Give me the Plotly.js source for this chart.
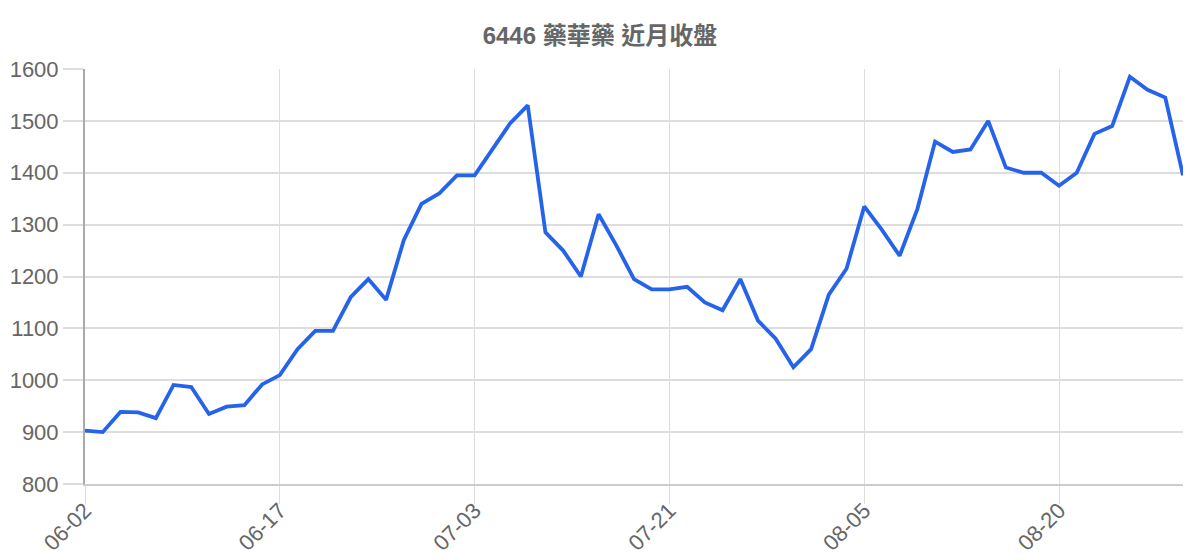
<!DOCTYPE html>
<html>
<head>
<meta charset="utf-8">
<script src="https://cdn.plot.ly/plotly-3.0.1.min.js"></script>
<style>
  html, body { margin: 0; padding: 0; background: #fff; }
  #chart { width: 1200px; height: 560px; }
</style>
</head>
<body>
<div id="chart"></div>
<script>
// trading days (MM-DD)
var dates = [
  '06-02', '06-03', '06-04', '06-05', '06-06', '06-09', '06-10', '06-11', '06-12', '06-13',
  '06-16', '06-17', '06-18', '06-19', '06-23', '06-24', '06-25', '06-26', '06-27', '06-30',
  '07-01', '07-02', '07-03', '07-04', '07-08', '07-09', '07-10', '07-11', '07-14', '07-15',
  '07-16', '07-17', '07-18', '07-21', '07-22', '07-23', '07-24', '07-25', '07-28', '07-29',
  '07-30', '07-31', '08-01', '08-04', '08-05', '08-06', '08-07', '08-08', '08-11', '08-12',
  '08-13', '08-14', '08-15', '08-18', '08-19', '08-20', '08-21', '08-22', '08-25', '08-26',
  '08-27', '08-28', '08-29'
];

// closing prices
var closes = [
  903, 900, 939, 938, 927, 991, 987, 935, 949, 952,
  992, 1010, 1060, 1095, 1095, 1160, 1195, 1155, 1270, 1340,
  1360, 1395, 1395, 1445, 1495, 1530, 1285, 1250, 1200, 1320,
  1260, 1195, 1175, 1175, 1180, 1150, 1135, 1195, 1115, 1080,
  1025, 1060, 1165, 1215, 1335, 1290, 1240, 1330, 1460, 1440,
  1445, 1500, 1410, 1400, 1400, 1375, 1400, 1475, 1490, 1585,
  1560, 1545, 1395
];

var tickDates = ['06-02', '06-17', '07-03', '07-21', '08-05', '08-20'];
var priceTicks = [800, 900, 1000, 1100, 1200, 1300, 1400, 1500, 1600];

var chartTitle = '6446 藥華藥 近月收盤';

var trace = {
  x: dates,
  y: closes,
  type: 'scatter',
  mode: 'lines',
  line: { color: 'rgb(37,99,235)', width: 3.8 },
  hoverinfo: 'x+y'
};

var fontFam = '"Liberation Sans", "Noto Sans CJK TC", sans-serif';

var layout = {
  width: 1200,
  height: 560,
  margin: { l: 85, r: 17, t: 69, b: 76 },
  paper_bgcolor: '#fff',
  plot_bgcolor: '#fff',
  showlegend: false,
  title: {
    text: '<b>' + chartTitle + '</b>',
    font: { family: fontFam, size: 24, color: '#666' },
    x: 0.5,
    xanchor: 'center',
    y: 0.937,
    yanchor: 'middle'
  },
  xaxis: {
    type: 'category',
    range: [0, dates.length - 1],
    tickmode: 'array',
    tickvals: tickDates,
    ticktext: tickDates,
    tickangle: -45,
    ticks: 'outside',
    ticklen: 18,
    tickcolor: '#ddd',
    tickwidth: 1,
    ticklabelstandoff: -15,
    showgrid: true,
    gridcolor: '#ddd',
    gridwidth: 1,
    showline: true,
    linecolor: '#ccc',
    linewidth: 2,
    zeroline: false,
    tickfont: { family: fontFam, size: 22, color: '#666' }
  },
  yaxis: {
    range: [800, 1600],
    tickmode: 'array',
    tickvals: priceTicks,
    ticks: 'outside',
    ticklen: 20,
    tickcolor: '#ddd',
    tickwidth: 2,
    showgrid: true,
    gridcolor: '#ddd',
    gridwidth: 2,
    showline: true,
    linecolor: '#aaa',
    linewidth: 2,
    zeroline: false,
    tickfont: { family: fontFam, size: 22, color: '#666' }
  }
};

Plotly.newPlot('chart', [trace], layout, { displayModeBar: false, staticPlot: true });
</script>
</body>
</html>
